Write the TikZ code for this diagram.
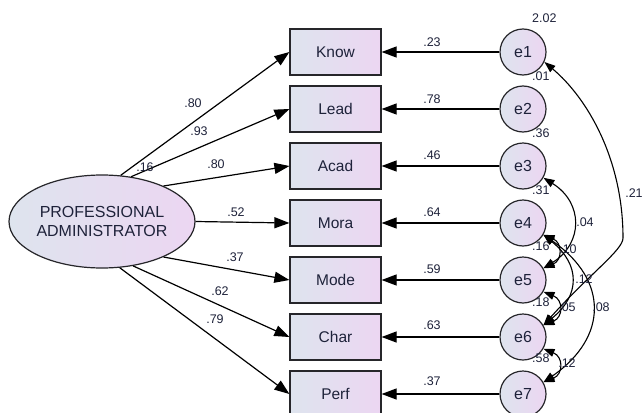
\documentclass[tikz,border=0pt]{standalone}
\usepackage{fontspec}
\setmainfont{Liberation Sans}
\usetikzlibrary{arrows.meta,shapes.geometric}
\definecolor{inkc}{RGB}{30,34,58}
\definecolor{shadeL}{RGB}{222,228,238}
\definecolor{shadeR}{RGB}{236,214,242}
\definecolor{edgec}{RGB}{38,38,42}
\begin{document}
\begin{tikzpicture}[x=1pt,y=1pt,
  every node/.style={text=inkc},
  obs/.style={draw=edgec,line width=1.2pt,left color=shadeL,right color=shadeR,
    minimum width=91pt,minimum height=46pt,inner sep=0pt,font=\fontsize{15.5}{18}\selectfont},
  err/.style={circle,draw=edgec,line width=1.2pt,left color=shadeL,right color=shadeR,
    minimum size=46pt,inner sep=0pt,font=\fontsize{16}{18}\selectfont},
  lv/.style={ellipse,draw=edgec,line width=1.2pt,left color=shadeL,right color=shadeR,
    minimum width=186pt,minimum height=93pt,inner sep=0pt,align=center,
    font=\fontsize{16}{19}\selectfont},
  coef/.style={font=\fontsize{12.5}{14}\selectfont,inner sep=0pt},
  rsq/.style={coef,anchor=west},
  load/.style={draw=black,line width=1.2pt,-{Triangle[length=15pt,width=11pt]}},
  cov/.style={draw=black,line width=1.1pt,
    {Triangle[length=11pt,width=8pt]}-{Triangle[length=11pt,width=8pt]}},
]
\useasboundingbox (0,0) rectangle (644,-412);

% latent factor
\node[lv] (lat) at (102,-221.5) {PROFESSIONAL\\ADMINISTRATOR};

% observed indicators
\node[obs] (know) at (335.5,-52)  {Know};
\node[obs] (lead) at (335.5,-109) {Lead};
\node[obs] (acad) at (335.5,-166) {Acad};
\node[obs] (mora) at (335.5,-223) {Mora};
\node[obs] (mode) at (335.5,-280) {Mode};
\node[obs] (char) at (335.5,-337) {Char};
\node[obs] (perf) at (335.5,-394) {Perf};

% error terms
\node[err] (e1) at (523,-52)  {e1};
\node[err] (e2) at (523,-109) {e2};
\node[err] (e3) at (523,-166) {e3};
\node[err] (e4) at (523,-223) {e4};
\node[err] (e5) at (523,-280) {e5};
\node[err] (e6) at (523,-337) {e6};
\node[err] (e7) at (523,-394) {e7};

% factor loadings
\draw[load] (lat.68.5)  -- (know.west);
\draw[load] (lat.57.7)  -- (lead.west);
\draw[load] (lat.30)    -- (acad.west);
\draw[load] (lat.0)     -- (mora.west);
\draw[load] (lat.-30.6) -- (mode.west);
\draw[load] (lat.-55.7) -- (char.west);
\draw[load] (lat.-69.6) -- (perf.west);

\node[coef] (lk) at (193,-103) {.80};
\node[coef] (ll) at (199,-131) {.93};
\node[coef] (lx) at (145,-167) {.16};
\node[coef] (la) at (216,-164) {.80};
\node[coef] (lm) at (236,-212) {.52};
\node[coef] (lo) at (235,-257) {.37};
\node[coef] (lc) at (220,-291) {.62};
\node[coef] (lp) at (215,-319) {.79};

% error paths
\draw[load] (e1) -- (know);
\draw[load] (e2) -- (lead);
\draw[load] (e3) -- (acad);
\draw[load] (e4) -- (mora);
\draw[load] (e5) -- (mode);
\draw[load] (e6) -- (char);
\draw[load] (e7) -- (perf);

\node[coef] (w1) at (432,-42)  {.23};
\node[coef] (w2) at (432,-99)  {.78};
\node[coef] (w3) at (432,-155) {.46};
\node[coef] (w4) at (432,-212) {.64};
\node[coef] (w5) at (432,-269) {.59};
\node[coef] (w6) at (432,-325) {.63};
\node[coef] (w7) at (432,-381) {.37};

% values beside the error terms
\node[rsq] (r1) at (532,-18)  {2.02};
\node[rsq] (r2) at (532,-76)  {.01};
\node[rsq] (r3) at (532,-133) {.36};
\node[rsq] (r4) at (532,-190) {.31};
\node[rsq] (r5) at (532,-246) {.16};
\node[rsq] (r6) at (532,-302) {.18};
\node[rsq] (r7) at (532,-358) {.58};

% error covariances
\coordinate (pk) at (623,-238);
\draw[cov] (e1.-25) .. controls +(-40:55) and +(0,80) .. (pk)
                    .. controls +(0,-12) and +(48:70) .. (e6.30);
\draw[cov] (e3.-30) .. controls +(40,-25) and +(40,25) .. (e5.30);
\draw[cov] (e4.-30) .. controls +(19,-8) and +(19,8) .. (e5.30);
\draw[cov] (e4.-30) .. controls +(37,-30) and +(37,30) .. (e6.30);
\draw[cov] (e4.-30) .. controls +(65,-45) and +(65,45) .. (e7.30);
\draw[cov] (e5.-30) .. controls +(20,-8) and +(20,8) .. (e6.30);
\draw[cov] (e6.-30) .. controls +(20,-8) and +(20,8) .. (e7.30);

\node[coef] (c16) at (634,-193) {.21};
\node[coef] (c35) at (585,-222) {.04};
\node[coef] (c45) at (568,-249) {.10};
\node[coef] (c46) at (584,-279) {.12};
\node[coef] (c56) at (567,-307) {.05};
\node[coef] (c47) at (601,-307) {.08};
\node[coef] (c67) at (567,-363) {.12};
\end{tikzpicture}
\end{document}
